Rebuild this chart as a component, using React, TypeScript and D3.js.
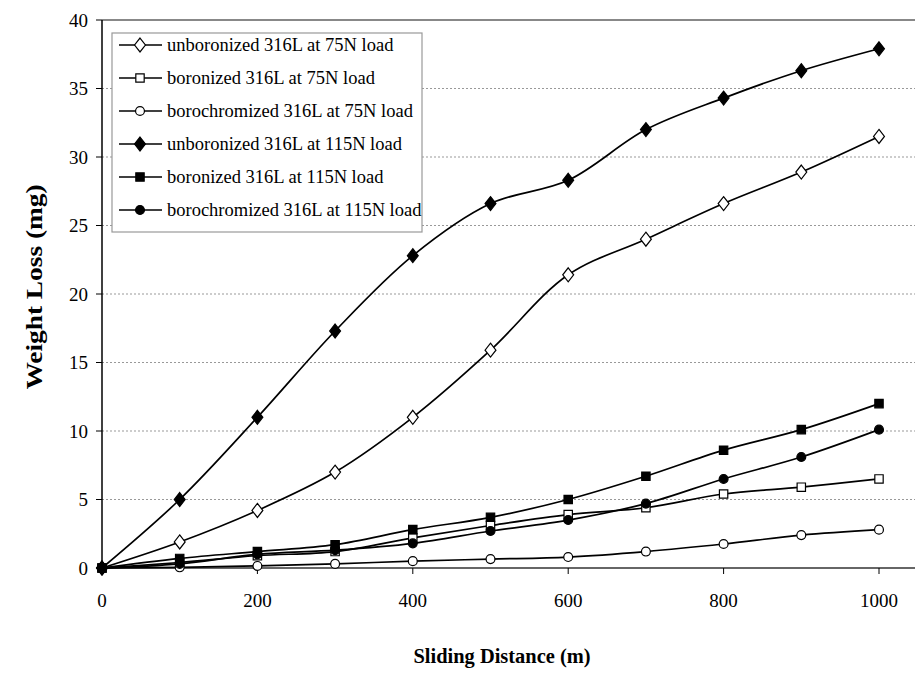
import React from "react";
import * as d3 from "d3";

const width = 917;
const height = 673;
const margin = { top: 20, right: 2, bottom: 105, left: 102 };

const distances = [0, 100, 200, 300, 400, 500, 600, 700, 800, 900, 1000];
const yTicks = [0, 5, 10, 15, 20, 25, 30, 35, 40];
const xTicks = [0, 200, 400, 600, 800, 1000];

const unboronized75 = [0, 1.9, 4.2, 7.0, 11.0, 15.9, 21.4, 24.0, 26.6, 28.9, 31.5];
const boronized75 = [0, 0.4, 0.9, 1.2, 2.2, 3.1, 3.9, 4.4, 5.4, 5.9, 6.5];
const borochromized75 = [0, 0.05, 0.15, 0.3, 0.5, 0.65, 0.8, 1.2, 1.75, 2.4, 2.8];
const unboronized115 = [0, 5.0, 11.0, 17.3, 22.8, 26.6, 28.3, 32.0, 34.3, 36.3, 37.9];
const boronized115 = [0, 0.7, 1.2, 1.7, 2.8, 3.7, 5.0, 6.7, 8.6, 10.1, 12.0];
const borochromized115 = [0, 0.3, 1.0, 1.3, 1.8, 2.7, 3.5, 4.7, 6.5, 8.1, 10.1];

const series = [
  { name: "unboronized 316L at 75N load", values: unboronized75, shape: "diamond", filled: false },
  { name: "boronized 316L at 75N load", values: boronized75, shape: "square", filled: false },
  { name: "borochromized 316L at 75N load", values: borochromized75, shape: "circle", filled: false },
  { name: "unboronized 316L at 115N load", values: unboronized115, shape: "diamond", filled: true },
  { name: "boronized 316L at 115N load", values: boronized115, shape: "square", filled: true },
  { name: "borochromized 316L at 115N load", values: borochromized115, shape: "circle", filled: true },
];

const font = "Liberation Serif, DejaVu Serif, serif";

// Excel-style diamond: a bit wider than d3's built-in one
const wideDiamond = {
  draw(ctx: any, size: number) {
    const h = Math.sqrt(size) * 0.78;
    const w = h * 0.78;
    ctx.moveTo(0, -h);
    ctx.lineTo(w, 0);
    ctx.lineTo(0, h);
    ctx.lineTo(-w, 0);
    ctx.closePath();
  },
};

const symbolPath = (shape: string) => {
  if (shape === "diamond") return d3.symbol().type(wideDiamond).size(80)()!;
  if (shape === "square") return d3.symbol().type(d3.symbolSquare).size(70)()!;
  return d3.symbol().type(d3.symbolCircle).size(62)()!;
};

export default function App() {
  const xScale = d3.scaleLinear().domain([0, 1000]).range([margin.left, 879]);
  const yScale = d3.scaleLinear().domain([0, 40]).range([568, margin.top]);
  const plotRight = width - margin.right;

  const line = d3
    .line<number>()
    .x((_, i) => xScale(distances[i]))
    .y(d => yScale(d))
    .curve(d3.curveCatmullRom.alpha(0.5));

  return (
    <svg width={width} height={height} style={{ position: "absolute", left: 0, top: 0, background: "#fff", fontFamily: font }}>
      {/* grid */}
      {yTicks.filter(t => t > 0 && t < 40).map(t => (
        <line key={t} x1={xScale(0)} x2={plotRight} y1={yScale(t)} y2={yScale(t)}
          stroke="#999" strokeWidth={1} strokeDasharray="2,2" />
      ))}
      <line x1={xScale(0)} x2={plotRight} y1={yScale(40)} y2={yScale(40)} stroke="#888" strokeWidth={2} />

      {/* axes */}
      <line x1={xScale(0)} x2={xScale(0)} y1={yScale(40)} y2={yScale(0)} stroke="#000" strokeWidth={1.5} />
      <line x1={xScale(0)} x2={plotRight} y1={yScale(0)} y2={yScale(0)} stroke="#333" strokeWidth={1.5} />
      {yTicks.map(t => (
        <g key={t}>
          <line x1={xScale(0) - 6} x2={xScale(0)} y1={yScale(t)} y2={yScale(t)} stroke="#000" />
          <text x={88} y={yScale(t)} dy="0.35em" textAnchor="end" fontSize={19}>{t}</text>
        </g>
      ))}
      {xTicks.map(t => (
        <g key={t}>
          <line x1={xScale(t)} x2={xScale(t)} y1={yScale(0)} y2={yScale(0) + 6} stroke="#000" />
          <text x={xScale(t)} y={607} textAnchor="middle" fontSize={19}>{t}</text>
        </g>
      ))}

      {/* series */}
      {series.map(s => (
        <g key={s.name}>
          <path d={line(s.values)!} fill="none" stroke="#000" strokeWidth={1.7} />
          {s.values.map((v, i) => (
            <path key={i} d={symbolPath(s.shape)} transform={`translate(${xScale(distances[i])},${yScale(v)})`}
              fill={s.filled ? "#000" : "#fff"} stroke="#000" strokeWidth={1.2} />
          ))}
        </g>
      ))}

      {/* legend */}
      <rect x={112} y={33} width={310} height={199} fill="#fff" stroke="#999" strokeWidth={1.2} />
      {series.map((s, i) => {
        const y = 45 + i * 33;
        return (
          <g key={s.name}>
            <line x1={119} x2={162} y1={y} y2={y} stroke="#000" strokeWidth={1.7} />
            <path d={symbolPath(s.shape)} transform={`translate(140,${y})`}
              fill={s.filled ? "#000" : "#fff"} stroke="#000" strokeWidth={1.2} />
            <text x={167} y={y} dy="0.32em" fontSize={18.5}>{s.name}</text>
          </g>
        );
      })}

      {/* titles */}
      <text transform="translate(34,287) rotate(-90)" textAnchor="middle" dy="0.35em"
        fontWeight="bold" fontSize={23} textLength={205} lengthAdjust="spacingAndGlyphs">Weight Loss (mg)</text>
      <text x={502} y={663} textAnchor="middle" fontWeight="bold" fontSize={20}
        textLength={177} lengthAdjust="spacingAndGlyphs">Sliding Distance (m)</text>
    </svg>
  );
}
